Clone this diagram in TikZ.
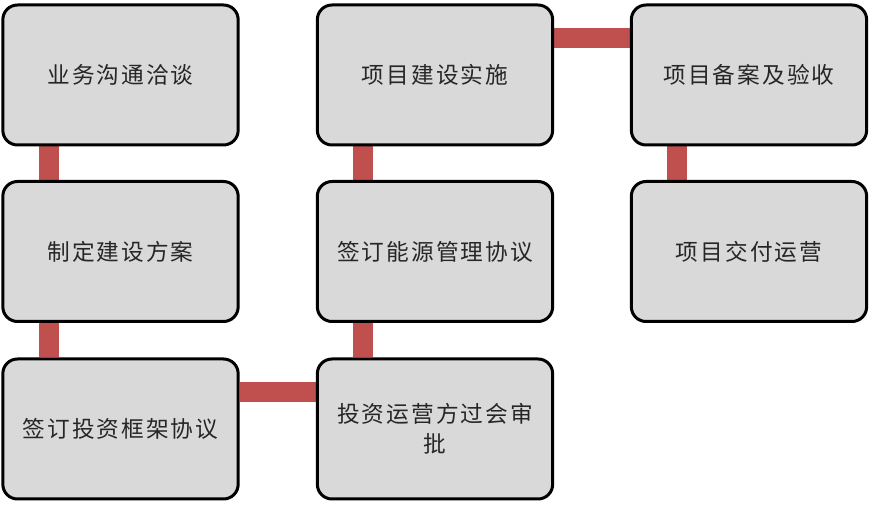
\documentclass[tikz,border=0pt]{standalone}
\usepackage{fontspec}
\newfontfamily\cjk{Noto Sans CJK SC}[LetterSpace=9]
\usetikzlibrary{backgrounds}
\definecolor{boxfill}{HTML}{D9D9D9}
\definecolor{barred}{HTML}{C0504D}
\tikzset{
  stepbox/.style={draw=black, line width=2.25pt, fill=boxfill, rounded corners=11pt,
    minimum width=176.5pt, minimum height=105pt, inner sep=0pt, align=center,
    font=\cjk\fontsize{17}{22.5}\selectfont, text=black!85},
  bar/.style={draw=barred, line width=15pt}
}
\begin{document}
\begin{tikzpicture}[x=0.75pt,y=-0.75pt]
\useasboundingbox (0,0) rectangle (869,505);
\node[stepbox] (a) at (120.5,75) {业务沟通洽谈};
\node[stepbox] (b) at (120.5,251.5) {制定建设方案};
\node[stepbox] (c) at (120.5,429) {签订投资框架协议};
\node[stepbox] (d) at (435,429) {投资运营方过会审\\批};
\node[stepbox] (e) at (435,251.5) {签订能源管理协议};
\node[stepbox] (f) at (435,75) {项目建设实施};
\node[stepbox] (g) at (749,75) {项目备案及验收};
\node[stepbox] (h) at (749,251.5) {项目交付运营};
\begin{scope}[on background layer]
\draw[bar] ([xshift=36pt]a.south west) -- ([xshift=36pt]b.north west);
\draw[bar] ([xshift=36pt]b.south west) -- ([xshift=36pt]c.north west);
\draw[bar] ([yshift=-26pt]c.north east) -- ([yshift=-26pt]d.north west);
\draw[bar] ([xshift=35.5pt]d.north west) -- ([xshift=35.5pt]e.south west);
\draw[bar] ([xshift=35.5pt]e.north west) -- ([xshift=35.5pt]f.south west);
\draw[bar] ([yshift=-26pt]f.north east) -- ([yshift=-26pt]g.north west);
\draw[bar] ([xshift=35pt]g.south west) -- ([xshift=35pt]h.north west);
\end{scope}
\end{tikzpicture}
\end{document}
